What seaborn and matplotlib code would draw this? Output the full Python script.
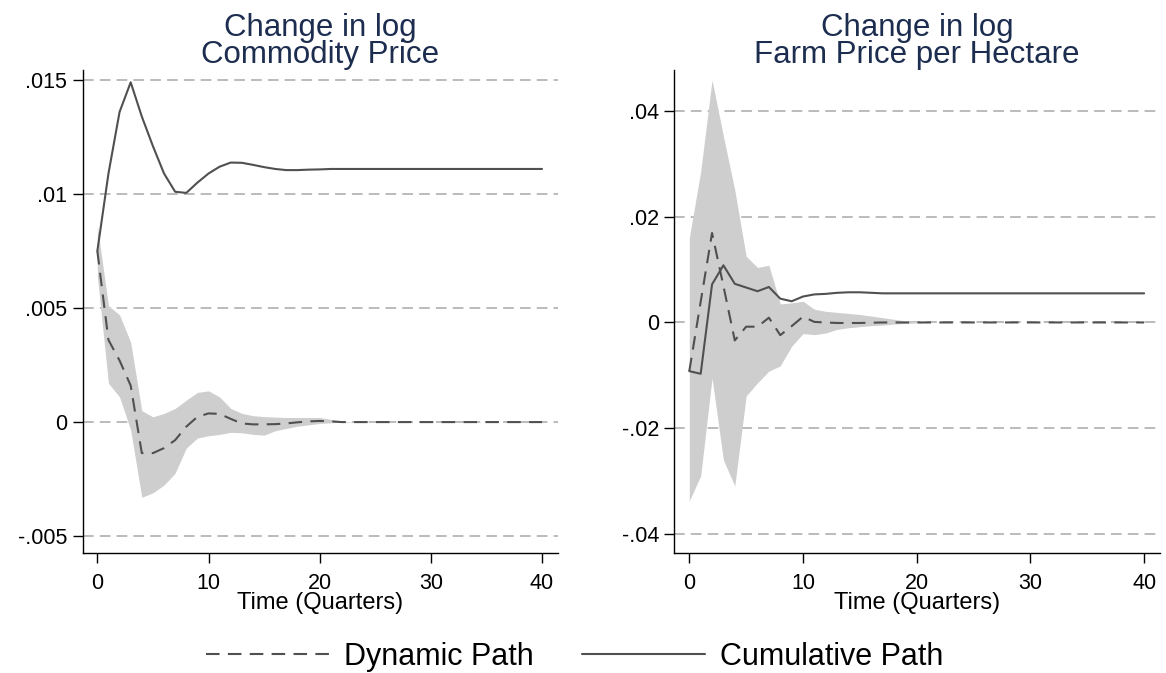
import numpy as np
import pandas as pd
import matplotlib
matplotlib.use("Agg")
import matplotlib.pyplot as plt
import seaborn as sns

# Quarters after the shock
quarters = list(range(41))

# Panel 1: change in log commodity price
commodity_dynamic = [0.0075, 0.0036, 0.0027, 0.0016, -0.00136, -0.00136, -0.00114, -0.00079, -0.0002, 0.00023,
                     0.00038, 0.00036, 0.00014, -0.00006, -0.0001, -0.0001, -0.00009, -0.00006, -0.00001, 0.00003,
                     0.00005, 0.00003, 0.0, 0.0, 0.0, 0.0, 0.0, 0.0, 0.0, 0.0,
                     0.0, 0.0, 0.0, 0.0, 0.0, 0.0, 0.0, 0.0, 0.0, 0.0, 0.0]
commodity_cumulative = [0.0075, 0.0109, 0.0136, 0.0149, 0.0134, 0.0121, 0.0109, 0.0101, 0.01005, 0.0105,
                        0.0109, 0.0112, 0.01138, 0.01137, 0.01128, 0.01118, 0.0111, 0.01105, 0.01105, 0.01107,
                        0.01108, 0.0111, 0.0111, 0.0111, 0.0111, 0.0111, 0.0111, 0.0111, 0.0111, 0.0111,
                        0.0111, 0.0111, 0.0111, 0.0111, 0.0111, 0.0111, 0.0111, 0.0111, 0.0111, 0.0111, 0.0111]
commodity_upper = [0.0086, 0.0051, 0.0047, 0.0035, 0.0005, 0.00023, 0.00038, 0.0006, 0.00096, 0.0013,
                   0.00137, 0.0011, 0.0006, 0.00038, 0.00028, 0.00024, 0.00022, 0.0002, 0.0002, 0.0002,
                   0.0002, 0.00012, 0.00004, 0.00001, 0.0, 0.0, 0.0, 0.0, 0.0, 0.0,
                   0.0, 0.0, 0.0, 0.0, 0.0, 0.0, 0.0, 0.0, 0.0, 0.0, 0.0]
commodity_lower = [0.0064, 0.0017, 0.0011, -0.00035, -0.0033, -0.0031, -0.00276, -0.00224, -0.00114, -0.0007,
                   -0.0006, -0.00054, -0.00045, -0.00047, -0.00054, -0.00057, -0.00038, -0.00028, -0.00018, -0.00012,
                   -0.00006, -0.00003, -0.00001, 0.0, 0.0, 0.0, 0.0, 0.0, 0.0, 0.0,
                   0.0, 0.0, 0.0, 0.0, 0.0, 0.0, 0.0, 0.0, 0.0, 0.0, 0.0]

# Panel 2: change in log farm price per hectare
farm_dynamic = [-0.0092, 0.0039, 0.0169, 0.0069, -0.0034, -0.0008, -0.0008, 0.0009, -0.0024, -0.0007,
                0.0011, 0.0001, 0.0, -0.0001, -0.0001, -0.0001, -0.00005, 0.0, 0.0, 0.0,
                0.0, 0.0, 0.0, 0.0, 0.0, 0.0, 0.0, 0.0, 0.0, 0.0,
                0.0, 0.0, 0.0, 0.0, 0.0, 0.0, 0.0, 0.0, 0.0, 0.0, 0.0]
farm_cumulative = [-0.0092, -0.0097, 0.0072, 0.0108, 0.0073, 0.0066, 0.0059, 0.0067, 0.0045, 0.004,
                   0.0049, 0.0053, 0.0054, 0.0056, 0.0057, 0.0057, 0.0056, 0.0055, 0.0055, 0.0055,
                   0.0055, 0.0055, 0.0055, 0.0055, 0.0055, 0.0055, 0.0055, 0.0055, 0.0055, 0.0055,
                   0.0055, 0.0055, 0.0055, 0.0055, 0.0055, 0.0055, 0.0055, 0.0055, 0.0055, 0.0055, 0.0055]
farm_upper = [0.016, 0.0285, 0.0458, 0.0352, 0.025, 0.0125, 0.0104, 0.0108, 0.0035, 0.0037,
              0.004, 0.0025, 0.0021, 0.0019, 0.0017, 0.0015, 0.0012, 0.0009, 0.0006, 0.0003,
              0.0002, 0.0001, 0.0, 0.0, 0.0, 0.0, 0.0, 0.0, 0.0, 0.0,
              0.0, 0.0, 0.0, 0.0, 0.0, 0.0, 0.0, 0.0, 0.0, 0.0, 0.0]
farm_lower = [-0.0337, -0.029, -0.0105, -0.026, -0.0309, -0.0139, -0.0114, -0.0092, -0.0082, -0.0045,
              -0.0021, -0.0023, -0.002, -0.0013, -0.001, -0.0008, -0.0006, -0.0005, -0.0003, -0.0002,
              -0.0001, 0.0, 0.0, 0.0, 0.0, 0.0, 0.0, 0.0, 0.0, 0.0,
              0.0, 0.0, 0.0, 0.0, 0.0, 0.0, 0.0, 0.0, 0.0, 0.0, 0.0]

x_ticks = [0, 10, 20, 30, 40]
commodity_yticks = [-0.005, 0.0, 0.005, 0.01, 0.015]
commodity_ylabels = ["-.005", "0", ".005", ".01", ".015"]
farm_yticks = [-0.04, -0.02, 0.0, 0.02, 0.04]
farm_ylabels = ["-.04", "-.02", "0", ".02", ".04"]

line_color = "#505050"
band_color = "#cecece"
title_color = "#1c2d4f"

sns.set_style("ticks")
plt.rcParams["font.family"] = ["Liberation Sans", "DejaVu Sans"]
plt.rcParams["text.color"] = "black"

fig = plt.figure(figsize=(11.66, 6.73), dpi=100)
ax1 = fig.add_axes([0.0708, 0.178, 0.4074, 0.718])
ax2 = fig.add_axes([0.5782, 0.178, 0.4167, 0.718])


def draw_panel(ax, upper, lower, dynamic, cumulative, title, yticks, ylabels, ylim):
    ax.fill_between(quarters, lower, upper, color=band_color, lw=0, zorder=1)
    sns.lineplot(x=quarters, y=dynamic, ax=ax, color=line_color, lw=1.5,
                 linestyle=(0, (6.5, 4)), label="Dynamic Path", legend=False, zorder=3)
    sns.lineplot(x=quarters, y=cumulative, ax=ax, color=line_color, lw=1.5,
                 label="Cumulative Path", legend=False, zorder=3)

    ax.set_xlim(-1.33, 41.4)
    ax.set_ylim(*ylim)
    ax.set_xticks(x_ticks)
    ax.set_xticklabels([str(t) for t in x_ticks])
    ax.set_yticks(yticks)
    ax.set_yticklabels(ylabels)
    ax.yaxis.grid(True, color="#a8a8a8", linestyle=(0, (7, 4)), lw=1.1)
    ax.set_axisbelow(True)

    sns.despine(ax=ax)
    for side in ["left", "bottom"]:
        ax.spines[side].set_color("black")
        ax.spines[side].set_linewidth(1.0)
    ax.tick_params(axis="both", direction="out", length=7, width=1, color="black",
                   labelsize=15.5, labelcolor="black", left=True, bottom=True)
    ax.tick_params(axis="x", pad=7)
    ax.tick_params(axis="y", pad=4)

    ax.set_xlabel("Time (Quarters)", fontsize=17, labelpad=-1, color="black")
    ax.set_ylabel("")
    ax.set_title(title, fontsize=22.5, color=title_color, linespacing=0.85, pad=5)


draw_panel(ax1, commodity_upper, commodity_lower, commodity_dynamic, commodity_cumulative,
           "Change in log\nCommodity Price", commodity_yticks, commodity_ylabels, (-0.00575, 0.01544))
draw_panel(ax2, farm_upper, farm_lower, farm_dynamic, farm_cumulative,
           "Change in log\nFarm Price per Hectare", farm_yticks, farm_ylabels, (-0.0436, 0.0477))

handles, labels = ax1.get_legend_handles_labels()
leg = fig.legend(handles, labels, loc="center", bbox_to_anchor=(0.493, 0.024), ncol=2, frameon=False,
                 fontsize=22, handlelength=4.0, handletextpad=0.5, columnspacing=1.6)
for txt in leg.get_texts():
    txt.set_color("black")

fig.savefig("out.png", dpi=100)
